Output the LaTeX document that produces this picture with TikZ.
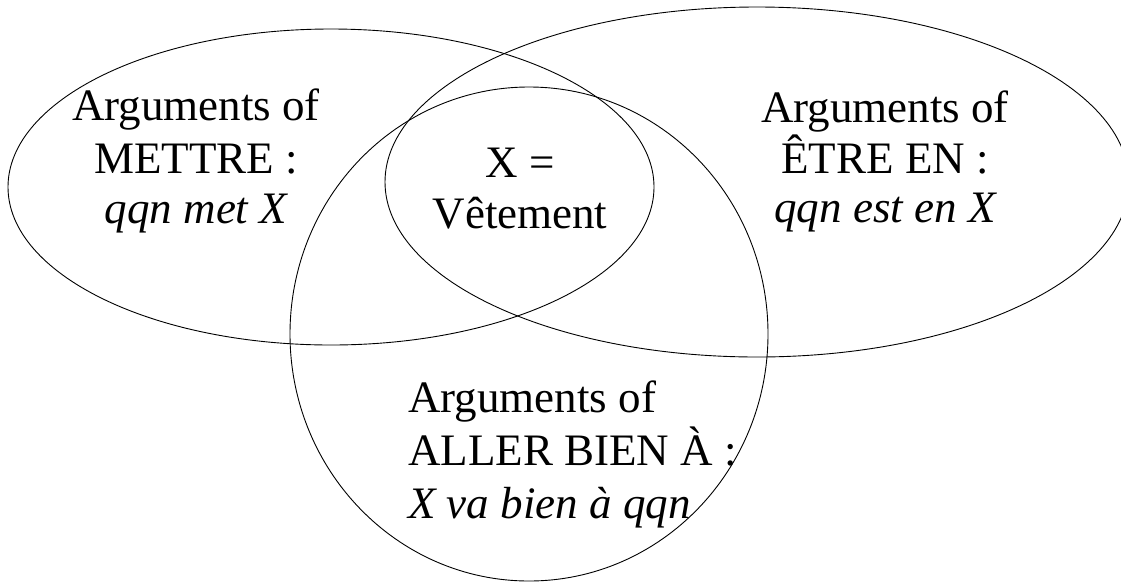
\documentclass[tikz,border=0pt]{standalone}
\usepackage{fontspec}
\setmainfont{Liberation Serif}
\tikzset{
  setline/.style={draw=black, line width=0.9pt},
  lbl/.style={anchor=base, inner sep=0pt, font=\fontsize{45}{52}\selectfont},
  lbll/.style={anchor=base west, inner sep=0pt, font=\fontsize{45}{52}\selectfont}
}
\begin{document}
\begin{tikzpicture}[x=1pt,y=-1pt]
\useasboundingbox (0,0) rectangle (1121,582);
\begin{scope}
\clip (0,0) rectangle (1121,582);
% METTRE ellipse
\draw[setline] (331,187) ellipse [x radius=323pt, y radius=158pt];
% ETRE EN ellipse
\draw[setline] (757,182) ellipse [x radius=372pt, y radius=175pt];
% ALLER BIEN A circle
\draw[setline] (529,334) ellipse [x radius=239pt, y radius=247pt];
\end{scope}
% left
\node[lbl] (m1) at (196,120) {Arguments of};
\node[lbl] (m2) at (196,173) {METTRE :};
\node[lbl] (m3) at (196,223) {\itshape qqn met X};
% center
\node[lbl] (c1) at (520,177) {X =};
\node[lbl] (c2) at (520,228) {Vêtement};
% right
\node[lbl] (e1) at (885,122) {Arguments of};
\node[lbl] (e2) at (885,173) {ÊTRE EN :};
\node[lbl] (e3) at (885,222) {\itshape qqn est en X};
% bottom
\node[lbll] (a1) at (408,412) {Arguments of};
\node[lbll] (a2) at (408,465) {ALLER BIEN À :};
\node[lbll] (a3) at (408,518) {\itshape X va bien à qqn};
\end{tikzpicture}
\end{document}
